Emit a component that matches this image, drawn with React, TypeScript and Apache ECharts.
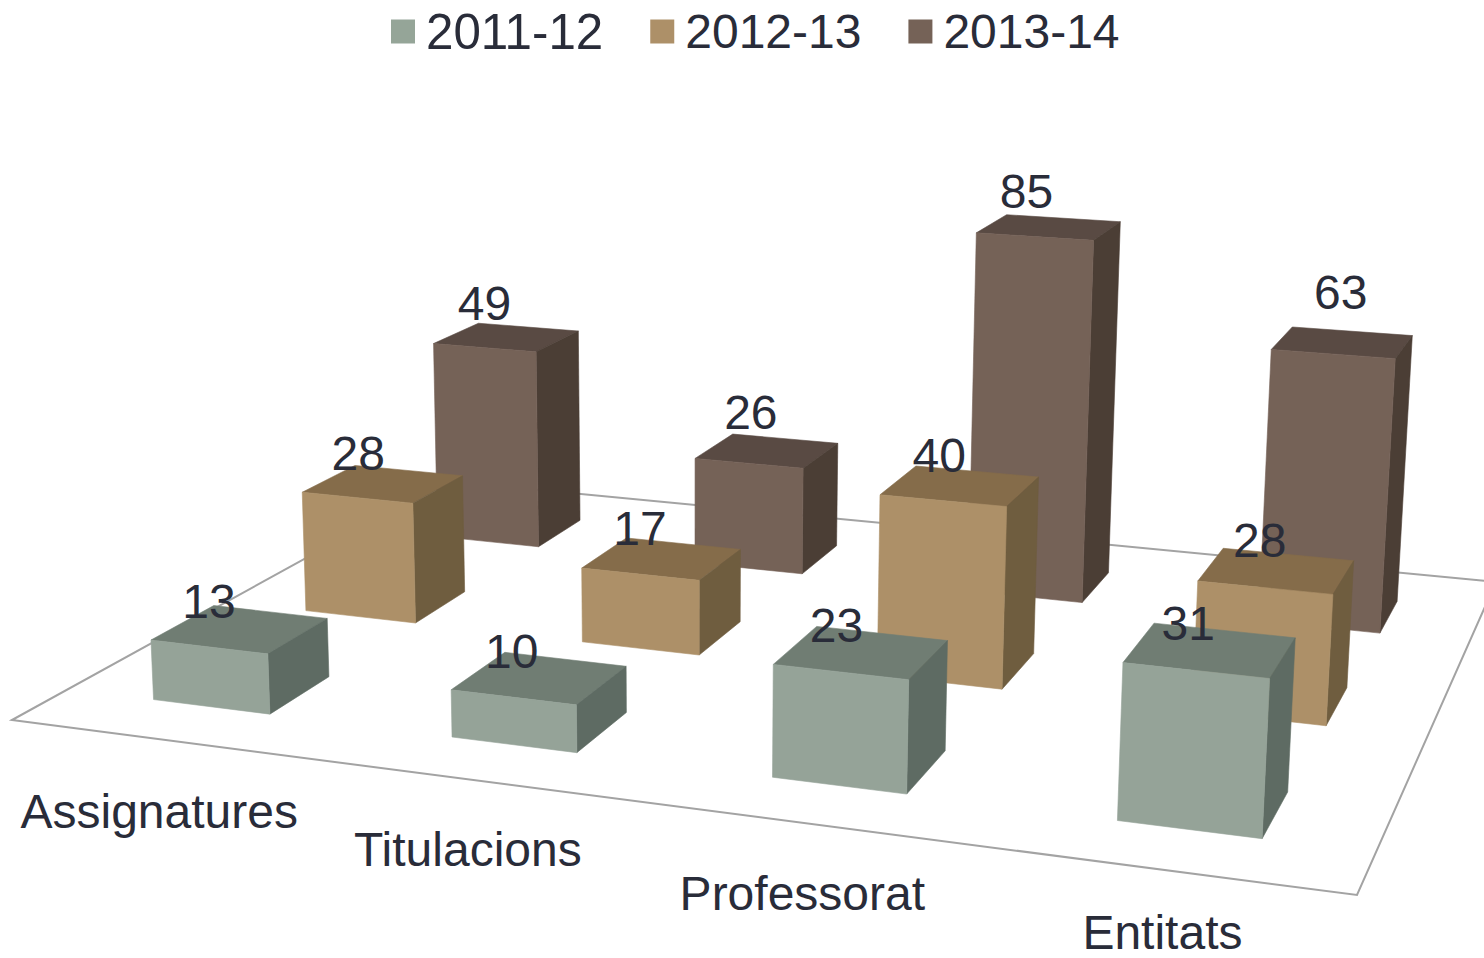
import React, { useEffect, useRef } from "react";
import * as echarts from "echarts";

const categories = ["Assignatures", "Titulacions", "Professorat", "Entitats"];
const seriesNames = ["2011-12", "2012-13", "2013-14"];
const values2011 = [13, 10, 23, 31];
const values2012 = [28, 17, 40, 28];
const values2013 = [49, 26, 85, 63];
const rows = [values2011, values2012, values2013];

const faceColors = [
  { front: "#95a398", top: "#707d73", side: "#5e6b63" },
  { front: "#ad9068", top: "#856c4a", side: "#6f5d3f" },
  { front: "#756257", top: "#594a43", side: "#4b3e35" },
];
const legendColors = ["#95a598", "#ad9068", "#756257"];
const textColor = "#292c39";
const fontFamily = "'Liberation Sans', Arial, sans-serif";
const fontSize = 48;
// Hand placement of the value labels, as in the reference (dx, dy per row and category).
const labelNudge = [
  [[-8, 2], [-5, 3], [-2, 3], [1, 3]],
  [[-1, 0], [2, 0], [3, 0], [7, 0]],
  [[5, -3], [11, -8], [5, -6], [26, -20]],
];
// Hand placement of the category labels (dx, dy).
const categoryNudge = [[0, 72], [-2, 70], [-2, 70], [-3, 62]];

// Camera: floor corners on screen plus the vertical vanishing point.
const P00 = [12, 720];
const P10 = [1357, 895];
const P11 = [1496, 582];
const P01 = [446, 481];
const V = [690, 13000];
const CW = -0.000378;
const MAX_VALUE = 100;

const dx1 = P10[0] - P11[0];
const dx2 = P01[0] - P11[0];
const sx = P00[0] - P10[0] + P11[0] - P01[0];
const dy1 = P10[1] - P11[1];
const dy2 = P01[1] - P11[1];
const sy = P00[1] - P10[1] + P11[1] - P01[1];
const den = dx1 * dy2 - dy1 * dx2;
const g = (sx * dy2 - sy * dx2) / den;
const h = (dx1 * sy - dy1 * sx) / den;
const a = P10[0] - P00[0] + g * P10[0];
const b = P01[0] - P00[0] + h * P01[0];
const d = P10[1] - P00[1] + g * P10[1];
const e = P01[1] - P00[1] + h * P01[1];

function project(u: number, v: number, z: number): number[] {
  const w = g * u + h * v + 1 + z * CW;
  return [
    (a * u + b * v + P00[0] + z * CW * V[0]) / w,
    (d * u + e * v + P00[1] + z * CW * V[1]) / w,
  ];
}

const U_LEFT = [0.0505, 0.0505, 0.0468];
const U_RIGHT = [0.049, 0.0505, 0.053];
const ROW_STEP = 0.98;
const ROW_START = 0.31;
const ROW_END = 0.69;

function fromAxes(params: any, api: any) {
  const cs = params.coordSys;
  const pt = api.coord([api.value(0), api.value(1)]);
  return {
    u: (pt[0] - cs.x) / cs.width,
    z: ((cs.y + cs.height - pt[1]) / cs.height) * MAX_VALUE,
  };
}

const barRender = (row: number) => (params: any, api: any) => {
  const { u, z } = fromAxes(params, api);
  const u0 = u - U_LEFT[row];
  const u1 = u + U_RIGHT[row];
  const v0 = (row * ROW_STEP + ROW_START) / 3;
  const v1 = (row * ROW_STEP + ROW_END) / 3;
  const c = faceColors[row];
  const face = (pts: number[][], fill: string) => ({
    type: "polygon",
    shape: { points: pts },
    style: { fill, stroke: fill, lineWidth: 0.6 },
  });
  return {
    type: "group",
    children: [
      face(
        [project(u0, v0, z), project(u1, v0, z), project(u1, v1, z), project(u0, v1, z)],
        c.top
      ),
      face(
        [project(u1, v0, 0), project(u1, v1, 0), project(u1, v1, z), project(u1, v0, z)],
        c.side
      ),
      face(
        [project(u0, v0, 0), project(u1, v0, 0), project(u1, v0, z), project(u0, v0, z)],
        c.front
      ),
    ],
  };
};

const labelStyle = {
  fontSize,
  fontFamily,
  fill: textColor,
  align: "center",
  verticalAlign: "middle",
};

const valueLabelRender = (params: any, api: any) => {
  const { u, z } = fromAxes(params, api);
  const row = api.value(2);
  const cat = api.value(0);
  const v = (row * ROW_STEP + (ROW_START + ROW_END) / 2) / 3;
  const p = project(u, v, z);
  const n = labelNudge[row][cat];
  return {
    type: "text",
    x: p[0] - 24 + n[0],
    y: p[1] - 30 + n[1],
    style: { ...labelStyle, text: String(api.value(1)) },
  };
};

const categoryLabelRender = (params: any, api: any) => {
  const { u } = fromAxes(params, api);
  const p = project(u, 0, 0);
  const n = categoryNudge[api.value(0)];
  return {
    type: "text",
    x: p[0] + n[0],
    y: p[1] + n[1],
    style: { ...labelStyle, text: categories[api.value(0)] },
  };
};

const floorRender = () => ({
  type: "polygon",
  shape: {
    points: [project(0, 0, 0), project(1, 0, 0), project(1, 1, 0), project(0, 1, 0)],
  },
  style: { fill: "none", stroke: "#a3a3a3", lineWidth: 2 },
});

export default function App() {
  const ref = useRef<HTMLDivElement>(null);
  useEffect(() => {
    const chart = echarts.init(ref.current!, undefined, { renderer: "svg" });
    const flat: number[][] = [];
    rows.forEach((vals, r) => vals.forEach((val, i) => flat.push([i, val, r])));
    chart.setOption({
      animation: false,
      backgroundColor: "#ffffff",
      legend: {
        data: [
          { name: seriesNames[0], textStyle: { fontSize: 49.3 } },
          { name: seriesNames[1], textStyle: { fontSize: 48 } },
          { name: seriesNames[2], textStyle: { fontSize: 48 } },
        ],
        left: 386,
        top: 2,
        icon: "rect",
        itemWidth: 24,
        itemHeight: 24,
        itemGap: 47,
        textStyle: {
          fontSize: 48,
          fontFamily,
          color: textColor,
          padding: [0, 0, 0, 6],
        },
        selectedMode: false,
      },
      grid: { left: 0, top: 0, width: 1484, height: 958 },
      xAxis: { type: "category", data: categories, show: false },
      yAxis: { type: "value", min: 0, max: MAX_VALUE, show: false },
      series: [
        {
          type: "custom",
          name: "floor",
          z: 1,
          silent: true,
          data: [[0, 0]],
          renderItem: floorRender,
          clip: false,
        },
        ...rows.map((vals, r) => ({
          type: "custom",
          name: seriesNames[r],
          z: 5 - r,
          silent: true,
          itemStyle: { color: legendColors[r] },
          data: vals.map((val, i) => [i, val]),
          encode: { x: 0, y: 1 },
          renderItem: barRender(r),
          clip: false,
        })),
        {
          type: "custom",
          name: "values",
          z: 10,
          silent: true,
          data: flat,
          encode: { x: 0, y: 1 },
          renderItem: valueLabelRender,
          clip: false,
        },
        {
          type: "custom",
          name: "categories",
          z: 10,
          silent: true,
          data: categories.map((_, i) => [i, 0]),
          encode: { x: 0, y: 1 },
          renderItem: categoryLabelRender,
          clip: false,
        },
      ],
    });
    return () => chart.dispose();
  }, []);
  return (
    <div
      ref={ref}
      style={{ position: "fixed", left: 0, top: 0, width: 1484, height: 958 }}
    />
  );
}
